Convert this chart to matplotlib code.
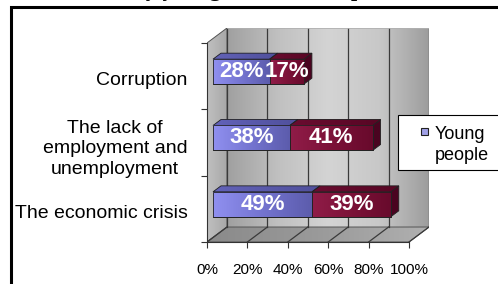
import numpy as np
import matplotlib
matplotlib.use('Agg')
import matplotlib.pyplot as plt
from matplotlib.patches import Polygon, Rectangle
from matplotlib.colors import LinearSegmentedColormap

########
# data #
########
categories = ['The economic crisis', 'The lack of\nemployment and\nunemployment', 'Corruption']
young = [49, 38, 28]
older = [39, 41, 17]
series_names = ['Young\npeople', 'Older\npeople']
xticks = [0, 20, 40, 60, 80, 100]
xtick_labels = ['0%', '20%', '40%', '60%', '80%', '100%']
title = 'Causes by young and adult respondents'

plt.rcParams['font.family'] = ['Liberation Sans', 'DejaVu Sans']

W, H = 498, 284
fig = plt.figure(figsize=(W / 100, H / 100), dpi=100)

# fake 3d depth, in data units
WALL_DX, WALL_DY = 9.9, 0.226
BAR_DX0, BAR_DY0 = 2.97, 0.068
BAR_DDX, BAR_DDY = 3.96, 0.09
BAR_H = 0.377

ax = fig.add_axes([207 / W, (H - 242) / H, 222 / W, 214 / H])
ax.patch.set_alpha(0)


def grad(xy, colors, z, edge=None, lw=0.6, clip=None):
    # polygon filled with a horizontal gradient
    if clip is None:
        clip = Polygon(xy, closed=True, facecolor=colors[0], edgecolor='none', zorder=z)
        ax.add_patch(clip)
    xs = [p[0] for p in xy]
    ys = [p[1] for p in xy]
    cmap = LinearSegmentedColormap.from_list('g', colors)
    im = ax.imshow(np.linspace(0, 1, 256)[None, :], cmap=cmap, aspect='auto',
                   extent=(min(xs), max(xs), min(ys), max(ys)),
                   interpolation='bilinear', zorder=z + 0.01)
    im.set_clip_path(clip)
    if edge:
        ax.add_patch(Polygon(xy, closed=True, fill=False, edgecolor=edge, lw=lw, zorder=z + 0.02))


# walls and floor
y0, y1 = -0.5, 2.5
grad([(WALL_DX, y0 + WALL_DY), (100 + WALL_DX, y0 + WALL_DY), (100 + WALL_DX, y1 + WALL_DY), (WALL_DX, y1 + WALL_DY)],
     ['#a0a0a0', '#c0c0c0', '#d4d4d4', '#c8c8c8', '#9c9c9c'], 0.5)
grad([(0, y0), (WALL_DX, y0 + WALL_DY), (WALL_DX, y1 + WALL_DY), (0, y1)],
     ['#c0c0c0', '#a8a8a8'], 0.5, edge='#555555', lw=0.7)
grad([(0, y0), (100, y0), (100 + WALL_DX, y0 + WALL_DY), (WALL_DX, y0 + WALL_DY)],
     ['#8a8a8a', '#9a9a9a', '#b0b0b0'], 0.5, edge='#555555', lw=0.7)

for t in xticks:
    ax.plot([t + WALL_DX] * 2, [y0 + WALL_DY, y1 + WALL_DY], color='#3a3a3a', lw=0.9, zorder=1)
    ax.plot([t, t + WALL_DX], [y0, y0 + WALL_DY], color='#3a3a3a', lw=0.9, zorder=1)
ax.plot([WALL_DX, 100 + WALL_DX], [y1 + WALL_DY] * 2, color='#b0b0b0', lw=0.6, zorder=1)

# stacked bars with top and side faces
pos = np.arange(len(categories)) + BAR_DY0
front_cols = [['#9090f0', '#7474d0', '#5c5cac'], ['#901c48', '#7c1238', '#680a2c']]
top_cols = [['#6262b8', '#50509c'], ['#6a0c30', '#580624']]
left = np.zeros(len(categories))
for s, vals in enumerate([young, older]):
    vals = np.array(vals, dtype=float)
    bars = ax.barh(pos, vals, left=left + BAR_DX0, height=BAR_H, color=front_cols[s][1],
                   edgecolor='#222222', lw=0.6, zorder=5)
    for i, rect in enumerate(bars):
        xa, xb = left[i] + BAR_DX0, left[i] + vals[i] + BAR_DX0
        yb, yt = pos[i] - BAR_H / 2, pos[i] + BAR_H / 2
        grad([(xa, yb), (xb, yb), (xb, yt), (xa, yt)], front_cols[s], 5, clip=rect)
        ax.add_patch(Polygon([(xa, yb), (xb, yb), (xb, yt), (xa, yt)], closed=True, fill=False,
                             edgecolor='#222222', lw=0.6, zorder=5.5))
        grad([(xa, yt), (xb, yt), (xb + BAR_DDX, yt + BAR_DDY), (xa + BAR_DDX, yt + BAR_DDY)],
             top_cols[s], 4, edge='#222222')
        if s == 1:
            ax.add_patch(Polygon([(xb, yb), (xb, yt), (xb + BAR_DDX, yt + BAR_DDY), (xb + BAR_DDX, yb + BAR_DDY)],
                                 closed=True, facecolor='#4a0420', edgecolor='#222222', lw=0.6, zorder=4))
        ax.text((xa + xb) / 2, pos[i], f'{int(vals[i])}%', ha='center', va='center', color='white',
                fontsize=16, fontweight='bold', zorder=8)
    left = left + vals

# axes
ax.set_xlim(0, 100 + WALL_DX)
ax.set_ylim(y0, y1 + WALL_DY)
for side in ['top', 'right']:
    ax.spines[side].set_visible(False)
ax.spines['left'].set_bounds(y0, y1)
ax.spines['bottom'].set_bounds(0, 100)
for side in ['left', 'bottom']:
    ax.spines[side].set_color('#333333')
    ax.spines[side].set_linewidth(0.8)
    ax.spines[side].set_zorder(6)
ax.set_xticks(xticks, xtick_labels)
ax.tick_params(axis='x', length=4, pad=11, labelsize=11, color='#333333')
ax.set_yticks([-0.5, 0.5, 1.5, 2.5], [''] * 4)
ax.tick_params(axis='y', which='major', length=4, color='#333333')
ax.set_yticks(np.arange(len(categories)) - 0.04, categories, minor=True)
ax.tick_params(axis='y', which='minor', length=0, pad=14, labelsize=14)
for lbl in ax.get_yticklabels(minor=True):
    lbl.set_multialignment('center')
    lbl.set_linespacing(1.25)

# legend (right part runs off the picture)
fig.add_artist(Rectangle((398 / W, 1 - 170 / H), 0.3, 55 / H, transform=fig.transFigure,
                         facecolor='white', edgecolor='black', lw=0.8, zorder=10))
fig.add_artist(Rectangle((421 / W, 1 - 135 / H), 7 / W, 7 / H, transform=fig.transFigure,
                         facecolor='#a0a0e6', edgecolor='#222222', lw=0.8, zorder=11))
fig.text(435 / W, 1 - 145 / H, series_names[0], fontsize=13, ha='left', va='center',
         linespacing=1.3, zorder=12)

# outer frame and title, mostly above the top edge
fig.add_artist(Rectangle((10.5 / W, -0.1), 1.2, 1.1 - 7.5 / H, transform=fig.transFigure,
                         fill=False, edgecolor='black', lw=2.2, zorder=20))
fig.text(0.5, 1 + 4.0 / H, title, fontfamily='Liberation Serif', fontweight='bold',
         fontsize=16, ha='center', va='baseline')

fig.savefig('out.png', dpi=100)
